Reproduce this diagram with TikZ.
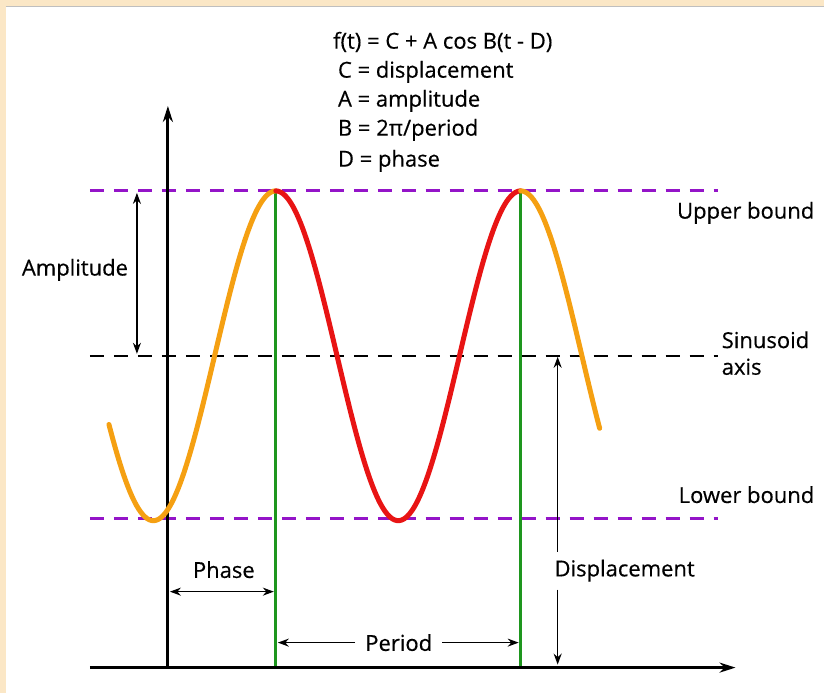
\documentclass[tikz,border=0pt]{standalone}
\usepackage{fontspec}
\setmainfont{Open Sans}
\newfontfamily\labelfont[FakeBold=0.4]{Open Sans}
\usetikzlibrary{arrows.meta}
\definecolor{cream}{HTML}{FBE7C6}
\definecolor{curveorange}{HTML}{F5A012}
\definecolor{curvered}{HTML}{E81414}
\definecolor{vgreen}{HTML}{1E961E}
\definecolor{bpurple}{HTML}{9414C8}
\tikzset{
  axisline/.style={line width=3pt,-{Stealth[length=16pt,width=10pt]}},
  dimarrow/.style={line width=1.6pt,-{Stealth[length=11pt,width=8pt]}},
  dimboth/.style={line width=1.6pt,{Stealth[length=11pt,width=8pt]}-{Stealth[length=11pt,width=8pt]}},
  bounddash/.style={bpurple,line width=3pt,dash pattern=on 14pt off 10pt},
  axisdash/.style={black,line width=2.5pt,dash pattern=on 14pt off 10pt},
  greenline/.style={vgreen,line width=3pt},
  wave/.style={line width=5pt,line cap=round},
  lbl/.style={font=\labelfont\fontsize{22}{26}\selectfont,inner sep=0pt},
}
\begin{document}
\begin{tikzpicture}[x=1pt,y=-1pt]
\fill[cream] (0,0) rectangle (824,693);
\fill[white] (6,6) rectangle (824,693);
\draw[black!25,line width=1pt] (6,6.5) -- (824,6.5);
\useasboundingbox (0,0) rectangle (824,693);

% coordinates
\coordinate (xl) at (90,668);
\coordinate (xr) at (736,668);
\coordinate (o) at (168,668);
\coordinate (yt) at (168,106);
\coordinate (ubl) at (90,191);
\coordinate (ubr) at (718,191);
\coordinate (lbl) at (90,519);
\coordinate (lbr) at (718,519);
\coordinate (sal) at (90,356);
\coordinate (sar) at (718,356);
\coordinate (p1t) at (276,191);
\coordinate (p1b) at (276,668);
\coordinate (p2t) at (521,191);
\coordinate (p2b) at (521,668);

% bounds and axis
\draw[bounddash] (ubl) -- (ubr);
\draw[bounddash] (lbl) -- (lbr);
\draw[axisdash] (sal) -- (sar);

% green lines
\draw[greenline] (p1t) -- (p1b);
\draw[greenline] (p2t) -- (p2b);

% axes
\draw[axisline] (xl) -- (xr);
\draw[axisline] (o) -- (yt);

% wave
\draw[wave,curveorange] plot[domain=109:276,samples=80,smooth] (\x,{356-165*cos((\x-276)/245*360)});
\draw[wave,curvered] plot[domain=276:521,samples=100,smooth] (\x,{356-165*cos((\x-276)/245*360)});
\draw[wave,curveorange] plot[domain=521:600,samples=50,smooth] (\x,{356-165*cos((\x-276)/245*360)});

% formula
\node[lbl] (f0) at (443,42) {f(t) = C + A cos B(t - D)};
\node[lbl,anchor=west] (f1) at (338,72) {C = displacement};
\node[lbl,anchor=west] (f2) at (338,101) {A = amplitude};
\node[lbl,anchor=west] (f3) at (338,130) {B = 2π/period};
\node[lbl,anchor=west] (f4) at (338,161) {D = phase};

% right labels
\node[lbl,anchor=east] (ub) at (815,213) {Upper bound};
\node[lbl,anchor=west] (sa1) at (722,340) {Sinusoid};
\node[lbl,anchor=west] (sa2) at (722,367) {axis};
\node[lbl,anchor=east] (lb) at (815,495) {Lower bound};

% amplitude
\coordinate (at) at (137,193);
\coordinate (ab) at (137,354);
\draw[dimboth] (at) -- (ab);
\node[lbl] (amp) at (75,270) {Amplitude};

% phase
\coordinate (phl) at (170,592);
\coordinate (phr) at (274,592);
\draw[dimboth] (phl) -- (phr);
\node[lbl] (ph) at (224,570) {Phase};

% period
\node[lbl,inner xsep=10pt] (per) at (399,643) {Period};
\coordinate (perl) at (278,643);
\coordinate (perr) at (519,643);
\draw[dimarrow] (per.west) -- (perl);
\draw[dimarrow] (per.east) -- (perr);

% displacement
\node[lbl] (disp) at (625,571) {Displacement};
\coordinate (dt) at (558,357);
\coordinate (dm1) at (558,552);
\coordinate (dm2) at (558,590);
\coordinate (db) at (558,665);
\draw[dimarrow] (dm1) -- (dt);
\draw[dimarrow] (dm2) -- (db);
\end{tikzpicture}
\end{document}
